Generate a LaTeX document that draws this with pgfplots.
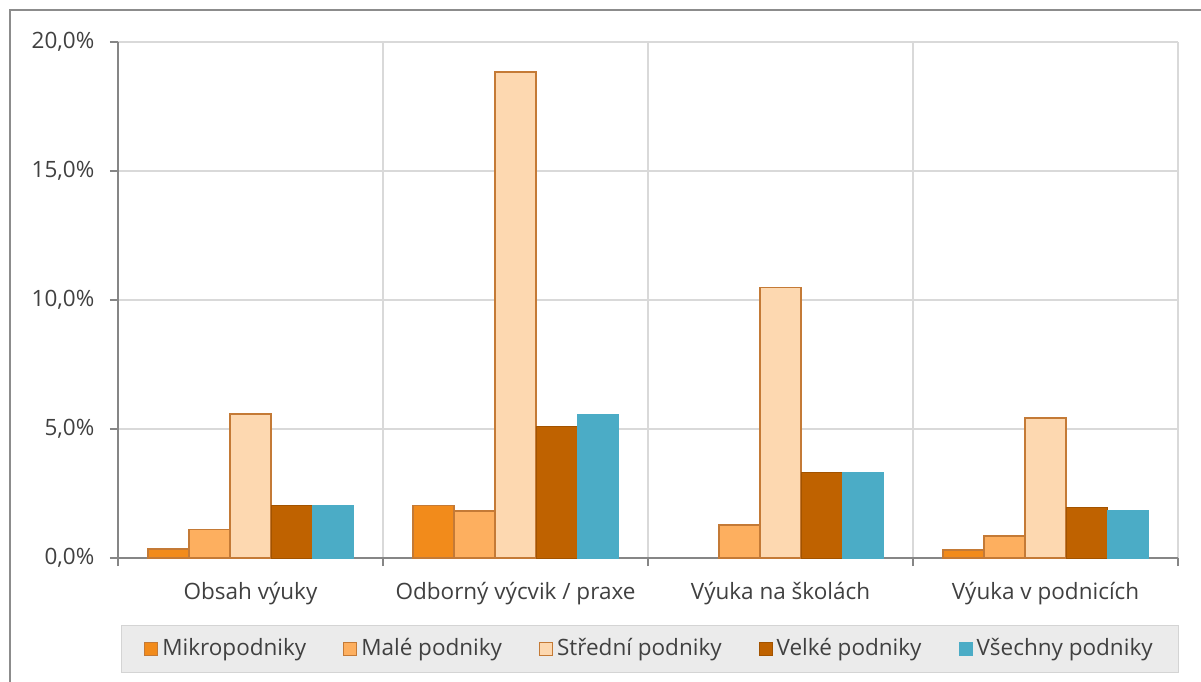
\documentclass[border=0pt]{standalone}
\usepackage{pgfplots}
\pgfplotsset{compat=1.18}
\usepackage{fontspec}
\setmainfont{Open Sans}
\definecolor{cMikro}{HTML}{F28B1B}
\definecolor{cMale}{HTML}{FDAF5F}
\definecolor{cStred}{HTML}{FDD8B0}
\definecolor{cVelke}{HTML}{BF6200}
\definecolor{cVse}{HTML}{4BACC6}
\definecolor{cBorder}{HTML}{C47A36}
\definecolor{axgray}{HTML}{868686}
\definecolor{gridgray}{HTML}{D9D9D9}
\definecolor{txt}{HTML}{404040}
\definecolor{legbg}{HTML}{EBEBEB}
\definecolor{legborder}{HTML}{D4D4D4}
\definecolor{framegray}{HTML}{8C8C8C}
\begin{document}
\fontsize{22.5}{27}\selectfont
\begin{tikzpicture}[x=1pt,y=1pt]
\path[use as bounding box] (-118,-123) rectangle (1083,558);
\filldraw[fill=legbg, draw=legborder, line width=1pt] (3,-67) rectangle (1060,-114);
\begin{axis}[
  at={(0,0)}, anchor=south west,
  scale only axis, width=1060pt, height=516pt,
  xmin=-0.5, xmax=3.5, ymin=0, ymax=20,
  axis x line*=bottom, axis y line*=left,
  axis line style={axgray, line width=1.2pt, -},
  xtick={0,1,2,3},
  xticklabels={Obsah výuky, Odborný výcvik / praxe, Výuka na školách, Výuka v podnicích},
  major x tick style={draw=none},
  minor xtick={-0.5,0.5,1.5,2.5,3.5},
  minor x tick style={axgray, line width=1.2pt},
  minor tick length=8pt,
  xminorgrids=true,
  minor x grid style={gridgray, line width=1.2pt},
  ytick={0,5,10,15,20},
  ymajorgrids=true,
  major y grid style={gridgray, line width=1.2pt},
  major y tick style={axgray, line width=1.2pt},
  major tick length=8pt,
  tick align=outside,
  /pgf/number format/.cd, use comma, fixed, fixed zerofill, precision=1, assume math mode=true,
  /pgfplots/.cd,
  yticklabel={\pgfmathprintnumber{\tick}\%},
  yticklabel style={font=\fontsize{22.5}{27}\selectfont, text=txt, xshift=-8pt},
  xticklabel style={font=\fontsize{22.5}{27}\selectfont, text=txt, yshift=-9pt},
  ybar=0pt, bar width=41pt,
  legend columns=5,
  legend style={draw=none, fill=none, at={(0.5014,-0.1754)}, anchor=center,
    font=\fontsize{22.5}{27}\selectfont, text=txt,
    /tikz/every even column/.append style={column sep=35pt},
    /tikz/every odd column/.append style={column sep=2pt}},
  legend image code/.code={\draw[#1, line width=1pt] (0pt,-6.5pt) rectangle (13pt,6.5pt);},
]
\addplot[fill=cMikro, draw=cBorder, line width=1.2pt] coordinates {(0,0.35) (1,2.02) (3,0.31)};
\addplot[fill=cMale, draw=cBorder, line width=1.2pt] coordinates {(0,1.09) (1,1.82) (2,1.28) (3,0.85)};
\addplot[fill=cStred, draw=cBorder, line width=1.2pt] coordinates {(0,5.58) (1,18.84) (2,10.50) (3,5.43)};
\addplot[fill=cVelke, draw=cVelke!85!black, line width=1pt] coordinates {(0,2.02) (1,5.08) (2,3.33) (3,1.94)};
\addplot[fill=cVse, draw=cVse, line width=1pt] coordinates {(0,2.02) (1,5.58) (2,3.33) (3,1.86)};
\legend{Mikropodniky, Malé podniky, Střední podniky, Velké podniky, Všechny podniky}
\end{axis}
\begin{scope}
\clip (-118,-123) rectangle (1083,558);
\draw[framegray, line width=2.5pt] (-108,-300) rectangle (1300,548);
\end{scope}
\end{tikzpicture}
\end{document}
